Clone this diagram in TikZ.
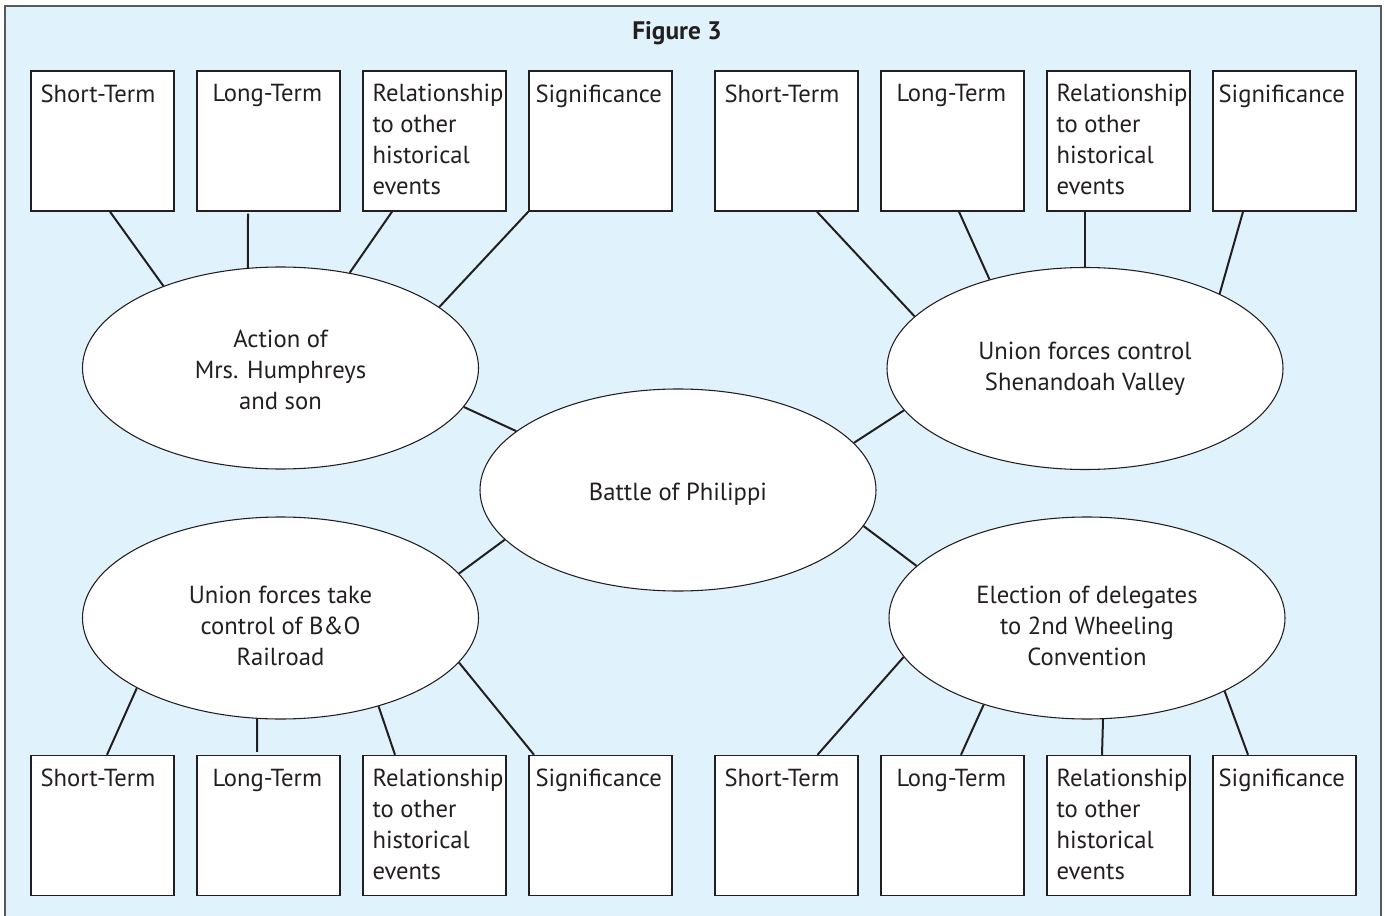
\documentclass[tikz,border=0pt]{standalone}
\usepackage{fontspec}
\setmainfont{PT Sans}
\usetikzlibrary{shapes.geometric,calc}
\definecolor{bgblue}{HTML}{E0F2FC}
\definecolor{ink}{HTML}{231F20}
\definecolor{framegray}{HTML}{58595B}
\newcommand{\ovtext}[2]{\raisebox{#1}[\height][\depth]{\begin{tabular}{@{}c@{}}#2\end{tabular}}}
\begin{document}
\begin{tikzpicture}[x=0.75pt,y=-0.75pt,
  box/.style={rectangle, draw=ink, line width=1.1pt, fill=white, minimum width=107.25pt, minimum height=105pt, inner sep=0pt},
  oval/.style={ellipse, draw=ink, line width=0.8pt, fill=white, minimum width=297pt, minimum height=151.5pt, inner sep=0pt, align=center, text=ink, font=\fontsize{18.5}{23.25}\selectfont},
  lbl/.style={anchor=north west, inner sep=0pt, align=left, text=ink, font=\fontsize{18.5}{23.25}\selectfont},
  link/.style={draw=ink, line width=1.5pt}]
\useasboundingbox (0,0) rectangle (1385,916);
\clip (0,0) rectangle (1385,916);
\draw[framegray, line width=1.2pt, fill=bgblue] (5,6) rectangle (1381,940);
\node[font=\bfseries\fontsize{19}{23}\selectfont, text=ink] (title) at (677,33) {Figure 3};
% top boxes
\node[box] (t1) at (102.5,141) {};
\node[box] (t2) at (268.5,141) {};
\node[box] (t3) at (434.5,141) {};
\node[box] (t4) at (600.5,141) {};
\node[box] (t5) at (786.5,141) {};
\node[box] (t6) at (952.5,141) {};
\node[box] (t7) at (1118.5,141) {};
\node[box] (t8) at (1284.5,141) {};
% bottom boxes
\node[box] (u1) at (102.5,825.5) {};
\node[box] (u2) at (268.5,825.5) {};
\node[box] (u3) at (434.5,825.5) {};
\node[box] (u4) at (600.5,825.5) {};
\node[box] (u5) at (786.5,825.5) {};
\node[box] (u6) at (952.5,825.5) {};
\node[box] (u7) at (1118.5,825.5) {};
\node[box] (u8) at (1284.5,825.5) {};
% labels
\node[lbl] (t1l) at ($(t1.north west)+(10,14)$) {Short-Term};
\node[lbl] (t2l) at ($(t2.north west)+(16,14)$) {Long-Term};
\node[lbl] (t3l) at ($(t3.north west)+(10,14)$) {Relationship\\to other\\historical\\events};
\node[lbl] (t4l) at ($(t4.north west)+(7,14)$) {Significance};
\node[lbl] (t5l) at ($(t5.north west)+(10,14)$) {Short-Term};
\node[lbl] (t6l) at ($(t6.north west)+(16,14)$) {Long-Term};
\node[lbl] (t7l) at ($(t7.north west)+(10,14)$) {Relationship\\to other\\historical\\events};
\node[lbl] (t8l) at ($(t8.north west)+(6,14)$) {Significance};
\node[lbl] (u1l) at ($(u1.north west)+(10,14)$) {Short-Term};
\node[lbl] (u2l) at ($(u2.north west)+(16,14)$) {Long-Term};
\node[lbl] (u3l) at ($(u3.north west)+(10,14)$) {Relationship\\to other\\historical\\events};
\node[lbl] (u4l) at ($(u4.north west)+(7,14)$) {Significance};
\node[lbl] (u5l) at ($(u5.north west)+(10,14)$) {Short-Term};
\node[lbl] (u6l) at ($(u6.north west)+(16,14)$) {Long-Term};
\node[lbl] (u7l) at ($(u7.north west)+(10,14)$) {Relationship\\to other\\historical\\events};
\node[lbl] (u8l) at ($(u8.north west)+(6,14)$) {Significance};
% ellipses
\node[oval] (tl) at (280.5,368) {\ovtext{-3pt}{Action of\\Mrs. Humphreys\\and son}};
\node[oval] (tr) at (1085,368.5) {\ovtext{0pt}{Union forces control\\Shenandoah Valley}};
\node[oval] (c) at (678,490) {\ovtext{-3pt}{Battle of Philippi}};
\node[oval] (bl) at (280.5,618) {\ovtext{-7.5pt}{Union forces take\\control of B\&O\\Railroad}};
\node[oval] (br) at (1087,618) {\ovtext{-7.5pt}{Election of delegates\\to 2nd Wheeling\\Convention}};
% connectors
\draw[link] ($(t1.south)+(7.5,0)$) -- (tl.145.2);
\draw[link] ($(t2.south)+(-20.5,2)$) -- (tl.108);
\draw[link] ($(t3.south)+(-42.5,0)$) -- (tl.54.2);
\draw[link] (t4.south west) -- (tl.21);
\draw[link] ($(t5.south)+(30.5,0)$) -- (tr.163.1);
\draw[link] ($(t6.south)+(6.5,0)$) -- (tr.137.8);
\draw[link] ($(t7.south)+(-33.5,0)$) -- (tr.90);
\draw[link] ($(t8.south)+(-41.5,0)$) -- (tr.29.4);
\draw[link] (tl.-12.5) -- (c.160.5);
\draw[link] (tr.193.3) -- (c.15.3);
\draw[link] (c.196.7) -- (bl.14.3);
\draw[link] (c.-11.5) -- (br.163.3);
\draw[link] (bl.206.8) -- ($(u1.north)+(4.5,0)$);
\draw[link] (bl.-103.2) -- ($(u2.north)+(-11.5,-3)$);
\draw[link] (bl.-42.7) -- ($(u3.north)+(-39.5,0)$);
\draw[link] (bl.-14.1) -- ($(u4.north)+(-66.5,0)$);
\draw[link] (br.192) -- ($(u5.north)+(31,0)$);
\draw[link] (br.220.5) -- ($(u6.north)+(8.5,0)$);
\draw[link] (br.-81.6) -- ($(u7.north)+(-16.5,0)$);
\draw[link] (br.-28.4) -- ($(u8.north)+(-36.5,0)$);
\end{tikzpicture}
\end{document}
